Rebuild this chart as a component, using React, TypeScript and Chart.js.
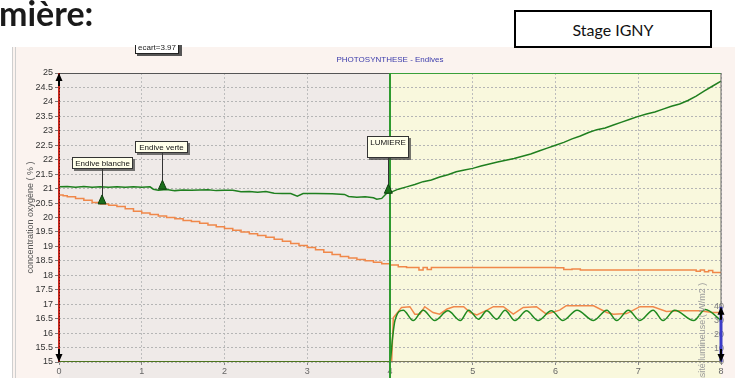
import React, { useEffect, useRef } from 'react';
import { Chart, registerables } from 'chart.js';
Chart.register(...registerables);

// ---- data ----
const xTickValues = [0, 1, 2, 3, 4, 5, 6, 7, 8];
const lightTickValues = [0, 10, 20, 30, 40];

const verteTime = [0, 0.1, 0.2, 0.3, 0.4, 0.5, 0.6, 0.7, 0.8, 0.9, 1.0, 1.1, 1.14, 1.2, 1.3, 1.4, 1.5, 1.6, 1.8, 1.9, 2.0, 2.1, 2.2, 2.3, 2.4, 2.5, 2.6, 2.7, 2.8, 2.88, 2.95, 3.1, 3.3, 3.45, 3.5, 3.6, 3.7, 3.8, 3.84, 3.9, 3.96, 4.0,
  4.1, 4.2, 4.3, 4.4, 4.5, 4.6, 4.7, 4.8, 4.9, 5.0, 5.1, 5.2, 5.3, 5.4, 5.5, 5.6, 5.7, 5.8, 5.9, 6.0, 6.1, 6.2, 6.3, 6.4, 6.5, 6.6, 6.7, 6.8, 6.9, 7.0, 7.1, 7.2, 7.3, 7.4, 7.5, 7.6, 7.7, 7.8, 7.9, 8.0];
const verteO2 = [21.06, 21.07, 21.05, 21.07, 21.05, 21.06, 21.05, 21.06, 21.05, 21.06, 21.05, 21.06, 20.98, 20.94, 20.97, 20.93, 20.95, 20.94, 20.96, 20.93, 20.94, 20.94, 20.89, 20.9, 20.87, 20.9, 20.84, 20.83, 20.83, 20.74, 20.83, 20.83, 20.82, 20.8, 20.73, 20.7, 20.72, 20.68, 20.63, 20.66, 20.84, 20.86,
  20.98, 21.06, 21.14, 21.24, 21.3, 21.4, 21.48, 21.58, 21.64, 21.7, 21.78, 21.85, 21.92, 21.98, 22.04, 22.12, 22.2, 22.3, 22.4, 22.5, 22.6, 22.72, 22.82, 22.94, 23.04, 23.1, 23.2, 23.3, 23.4, 23.5, 23.58, 23.65, 23.75, 23.85, 23.93, 24.05, 24.2, 24.38, 24.55, 24.72];

const blancheTime = [0, 0.05, 0.1, 0.2, 0.3, 0.4, 0.5, 0.6, 0.7, 0.8, 0.9, 1.0, 1.1, 1.2, 1.3, 1.4, 1.5, 1.6, 1.7, 1.8, 1.9, 2.0, 2.1, 2.2, 2.3, 2.4, 2.5, 2.6, 2.7, 2.8, 2.9, 3.0, 3.1, 3.2, 3.3, 3.4, 3.5, 3.6, 3.7, 3.8, 3.9, 4.0,
  4.1, 4.2, 4.35, 4.4, 4.45, 4.5, 5.0, 5.5, 6.0, 6.1, 6.2, 6.3, 7.0, 7.5, 7.7, 7.75, 7.8, 7.85, 7.9, 8.0];
const blancheO2 = [20.78, 20.75, 20.72, 20.66, 20.6, 20.52, 20.47, 20.42, 20.38, 20.3, 20.22, 20.16, 20.1, 20.05, 20.0, 19.96, 19.9, 19.86, 19.8, 19.74, 19.68, 19.62, 19.56, 19.5, 19.44, 19.38, 19.32, 19.25, 19.18, 19.1, 19.03, 18.96, 18.88, 18.8, 18.72, 18.65, 18.6, 18.55, 18.5, 18.45, 18.4, 18.36,
  18.3, 18.27, 18.18, 18.27, 18.2, 18.27, 18.27, 18.27, 18.26, 18.2, 18.22, 18.18, 18.18, 18.18, 18.14, 18.18, 18.12, 18.17, 18.1, 18.08];

const lightVerteTime = [0, 4.0, 4.03, 4.06, 4.16, 4.28, 4.40, 4.54, 4.70, 4.85, 4.95, 5.07, 5.17, 5.29, 5.39, 5.51, 5.65, 5.79, 5.95, 6.09, 6.26, 6.46, 6.62, 6.74, 6.88, 7.02, 7.18, 7.30, 7.44, 7.67, 7.81, 8.0];
const lightVerte = [0, 0, 17, 30, 37.5, 30, 37.5, 30, 37, 30, 37.5, 31, 37, 31, 37.5, 30, 37, 30, 37, 30, 37.5, 30, 37.5, 30, 37.5, 30, 37.5, 30, 37.5, 30, 38, 30];

const lightBlancheTime = [0, 4.0, 4.02, 4.04, 4.14, 4.24, 4.30, 4.36, 4.42, 4.52, 4.60, 4.69, 4.77, 4.89, 4.97, 5.05, 5.17, 5.25, 5.37, 5.49, 5.61, 5.77, 5.89, 6.05, 6.13, 6.46, 6.62, 6.70, 6.86, 7.02, 7.18, 7.34, 7.50, 7.74, 7.90, 8.0];
const lightBlanche = [0, 0, 0, 32, 39.5, 40, 34.6, 34.6, 40, 35.8, 34.6, 38.3, 40, 40, 35.8, 34, 37.5, 40, 40, 34.6, 39.5, 40, 34.6, 37.5, 40.7, 40.7, 35.8, 34.6, 35, 40, 40, 36.5, 37, 37, 35.8, 35.8];

const callouts = [
  { text: 'Endive blanche', x: 0.52, value: 20.47 },
  { text: 'Endive verte', x: 1.25, value: 20.98 },
  { text: 'LUMIERE', x: 3.98, value: 20.84 },
];
const lightSwitchTime = 4;

const pts = (xs: number[], ys: number[]) => xs.map((x, i) => ({ x, y: ys[i] }));

// callout box geometry (style only)
const calloutBoxes = [
  { dx: -30, dy: -47, w: 61, h: 12 },
  { dx: -27, dy: -48, w: 53, h: 12 },
  { dx: -21, dy: -57, w: 42, h: 22 },
];

const FONT = '"Liberation Sans", Arial, sans-serif';

const decor = {
  id: 'decor',
  beforeDraw(chart: any) {
    const { ctx, chartArea: a, scales } = chart;
    const xs = scales.x;
    const W = chart.width, H = chart.height;
    ctx.save();
    ctx.fillStyle = '#ffffff';
    ctx.fillRect(0, 0, W, H);
    ctx.fillStyle = '#fbf3ef';
    ctx.fillRect(12, 47, W - 12, H - 47);
    ctx.strokeStyle = '#cfcfcf';
    ctx.lineWidth = 1;
    ctx.beginPath();
    ctx.moveTo(12.5, 47); ctx.lineTo(12.5, H);
    ctx.moveTo(15.5, 47); ctx.lineTo(15.5, H);
    ctx.stroke();
    const x4 = xs.getPixelForValue(lightSwitchTime);
    ctx.fillStyle = '#efeae8';
    ctx.fillRect(a.left, a.top, x4 - a.left, H - a.top);
    ctx.fillStyle = '#f9f8dd';
    ctx.fillRect(x4, a.top, a.right - x4, H - a.top);
    // title
    ctx.fillStyle = '#3b3bab';
    ctx.font = '8px ' + FONT;
    ctx.textAlign = 'center';
    ctx.textBaseline = 'middle';
    ctx.fillText('PHOTOSYNTHESE - Endives', x4, 60);
    // ecart box (cut at top)
    ctx.save();
    ctx.beginPath();
    ctx.rect(0, 45, W, 20);
    ctx.clip();
    ctx.fillStyle = '#555';
    ctx.fillRect(137, 44, 45, 12);
    ctx.fillStyle = '#ffffff';
    ctx.fillRect(135, 42, 44, 12);
    ctx.strokeStyle = '#222';
    ctx.strokeRect(135.5, 42.5, 43, 11);
    ctx.fillStyle = '#222';
    ctx.font = '8px ' + FONT;
    ctx.textAlign = 'center';
    ctx.textBaseline = 'middle';
    ctx.fillText('ecart=3.97', 157, 47.5);
    ctx.restore();
    ctx.restore();
  },
  afterDatasetsDraw(chart: any) {
    const { ctx, chartArea: a, scales } = chart;
    const xs = scales.x, ys = scales.y, y1 = scales.y1;
    const H = chart.height;
    const x4 = xs.getPixelForValue(lightSwitchTime);
    ctx.save();
    // top border
    ctx.lineWidth = 1;
    ctx.strokeStyle = '#555';
    ctx.beginPath(); ctx.moveTo(a.left, a.top + 0.5); ctx.lineTo(x4, a.top + 0.5); ctx.stroke();
    ctx.strokeStyle = '#3aa03a';
    ctx.beginPath(); ctx.moveTo(x4, a.top + 0.5); ctx.lineTo(a.right, a.top + 0.5); ctx.stroke();
    // right border
    const y40 = y1.getPixelForValue(40), y0 = y1.getPixelForValue(0);
    ctx.strokeStyle = '#666';
    ctx.beginPath(); ctx.moveTo(a.right, a.top); ctx.lineTo(a.right, y40); ctx.stroke();
    ctx.strokeStyle = '#3c3cc8';
    ctx.lineWidth = 3;
    ctx.beginPath(); ctx.moveTo(a.right, y40); ctx.lineTo(a.right, y0); ctx.stroke();
    // bottom right part
    ctx.lineWidth = 1;
    ctx.strokeStyle = '#7a7a5a';
    ctx.beginPath(); ctx.moveTo(x4, a.bottom - 0.5); ctx.lineTo(a.right, a.bottom - 0.5); ctx.stroke();
    // left red axis
    ctx.strokeStyle = '#c8281e';
    ctx.lineWidth = 2;
    ctx.beginPath(); ctx.moveTo(a.left, a.top); ctx.lineTo(a.left, a.bottom); ctx.stroke();
    ctx.strokeStyle = 'rgba(40,0,0,0.6)';
    ctx.lineWidth = 1;
    ctx.setLineDash([1, 2]);
    ctx.beginPath(); ctx.moveTo(a.left + 0.5, a.top); ctx.lineTo(a.left + 0.5, a.bottom); ctx.stroke();
    ctx.setLineDash([]);
    // green LUMIERE line
    ctx.strokeStyle = '#2f9a2f';
    ctx.lineWidth = 2;
    ctx.beginPath(); ctx.moveTo(x4, a.top); ctx.lineTo(x4, H); ctx.stroke();
    // arrows
    const arrow = (x: number, tip: number, dir: number) => {
      ctx.fillStyle = '#000';
      ctx.strokeStyle = '#000';
      ctx.lineWidth = 2;
      ctx.beginPath(); ctx.moveTo(x, tip + dir * 6); ctx.lineTo(x, tip + dir * 13); ctx.stroke();
      ctx.beginPath();
      ctx.moveTo(x, tip);
      ctx.lineTo(x - 3.5, tip + dir * 8);
      ctx.lineTo(x + 3.5, tip + dir * 8);
      ctx.closePath();
      ctx.fill();
    };
    arrow(a.left, a.top, 1);
    arrow(a.left, a.bottom, -1);
    arrow(a.right, y40, 1);
    arrow(a.right, y0, -1);
    // right axis title
    ctx.save();
    ctx.translate(703, y40 - 24);
    ctx.rotate(-Math.PI / 2);
    ctx.fillStyle = '#9a9a9a';
    ctx.font = '9px ' + FONT;
    ctx.textAlign = 'right';
    ctx.textBaseline = 'middle';
    ctx.fillText('intensité lumineuse ( W/m2 )', 0, 0);
    ctx.restore();
    // callouts
    callouts.forEach((c, i) => {
      const b = calloutBoxes[i];
      const px = xs.getPixelForValue(c.x);
      const py = ys.getPixelForValue(c.value);
      const bx = Math.round(px + b.dx), by = Math.round(py + b.dy);
      ctx.strokeStyle = '#333';
      ctx.lineWidth = 1;
      ctx.beginPath(); ctx.moveTo(Math.round(px) + 0.5, by + b.h); ctx.lineTo(Math.round(px) + 0.5, py - 7); ctx.stroke();
      ctx.fillStyle = '#1a6e1a';
      ctx.beginPath();
      ctx.moveTo(px, py - 9);
      ctx.lineTo(px - 4, py);
      ctx.lineTo(px + 4, py);
      ctx.closePath();
      ctx.fill();
      ctx.strokeStyle = '#0d3d0d';
      ctx.stroke();
      ctx.fillStyle = 'rgba(60,60,60,0.7)';
      ctx.fillRect(bx + 2, by + 2, b.w, b.h);
      ctx.fillStyle = '#ffffea';
      ctx.fillRect(bx, by, b.w, b.h);
      ctx.strokeStyle = '#333';
      ctx.strokeRect(bx + 0.5, by + 0.5, b.w - 1, b.h - 1);
      ctx.fillStyle = '#111';
      ctx.font = '8px ' + FONT;
      ctx.textAlign = 'center';
      ctx.textBaseline = 'middle';
      ctx.fillText(c.text, bx + b.w / 2, by + 6.5);
    });
    ctx.restore();
  },
};

export default function App() {
  const ref = useRef<HTMLCanvasElement | null>(null);
  useEffect(() => {
    if (!ref.current) return;
    const chart = new Chart(ref.current, {
      type: 'line',
      data: {
        datasets: [
          {
            label: 'lumière verte', data: pts(lightVerteTime, lightVerte), yAxisID: 'y1',
            borderColor: '#1f8a1f', borderWidth: 1.5, pointRadius: 0, cubicInterpolationMode: 'monotone', tension: 0.4,
          },
          {
            label: 'lumière blanche', data: pts(lightBlancheTime, lightBlanche), yAxisID: 'y1',
            borderColor: '#f0884a', borderWidth: 1.5, pointRadius: 0,
            segment: { borderColor: (c: any) => (c.p0.parsed.x < lightSwitchTime ? '#d8321e' : '#f0884a'), borderWidth: (c: any) => (c.p0.parsed.x < lightSwitchTime ? 2 : 1.5) },
          },
          {
            label: 'Endive blanche', data: pts(blancheTime, blancheO2), yAxisID: 'y',
            borderColor: '#f0884a', borderWidth: 1.5, pointRadius: 0, stepped: 'before',
          },
          {
            label: 'Endive verte', data: pts(verteTime, verteO2), yAxisID: 'y',
            borderColor: '#1f7f1f', borderWidth: 1.5, pointRadius: 0,
          },
        ],
      },
      options: {
        animation: false,
        responsive: false,
        maintainAspectRatio: false,
        layout: { padding: { top: 73, left: 0, right: 0, bottom: 0 } },
        plugins: { legend: { display: false }, tooltip: { enabled: false }, title: { display: false } },
        scales: {
          x: {
            type: 'linear', min: 0, max: 8,
            afterBuildTicks: (s: any) => { s.ticks = xTickValues.map((v) => ({ value: v })); },
            ticks: { color: '#666', font: { size: 9, family: FONT }, padding: 1, maxRotation: 0, callback: (v: any) => String(v) },
            grid: { color: '#bdbdbd', tickLength: 3, tickColor: '#888', tickBorderDash: [] },
            border: { display: false, dash: [2, 2] },
            afterFit: (s: any) => { s.height = 16; },
          },
          y: {
            min: 15, max: 25,
            ticks: { stepSize: 0.5, color: '#333', font: { size: 9, family: FONT }, padding: 2, callback: (v: any) => String(Math.round(v * 10) / 10) },
            grid: { color: '#b5b5b5', tickLength: 4, tickColor: '#777', tickBorderDash: [] },
            border: { display: false, dash: [2, 2] },
            title: { display: true, text: 'concentration oxygène ( % )', color: '#555', font: { size: 9, family: FONT }, padding: { top: 25, bottom: 0 } },
            afterFit: (s: any) => { s.width = 59; },
          },
          y1: {
            position: 'right', min: 0, max: 209,
            afterBuildTicks: (s: any) => { s.ticks = lightTickValues.map((v) => ({ value: v })); },
            ticks: { mirror: true, color: '#7d7d7d', font: { size: 9, family: FONT }, padding: 3, callback: (v: any) => String(v) },
            grid: { display: false },
            border: { display: false },
            afterFit: (s: any) => { s.width = 14; },
          },
        },
      },
      plugins: [decor],
    } as any);
    return () => chart.destroy();
  }, []);

  return (
    <div style={{ position: 'fixed', left: 0, top: 0, width: 735, height: 378, overflow: 'hidden', background: '#fff' }}>
      <canvas ref={ref} width={735} height={378} style={{ position: 'absolute', left: 0, top: 0, width: 735, height: 378 }} />
      <div style={{ position: 'absolute', left: -1, top: -9, fontFamily: 'Lato, "Open Sans", sans-serif', fontWeight: 700, fontSize: 34, color: '#1a1a1a', lineHeight: '44px' }}>mière:</div>
      <div style={{ position: 'absolute', left: 514, top: 10, width: 198, height: 38, border: '2px solid #000', boxSizing: 'border-box', background: '#fff', display: 'flex', alignItems: 'center', justifyContent: 'center', fontFamily: 'Lato, "Open Sans", sans-serif', fontSize: 16, color: '#111' }}>Stage IGNY</div>
    </div>
  );
}
